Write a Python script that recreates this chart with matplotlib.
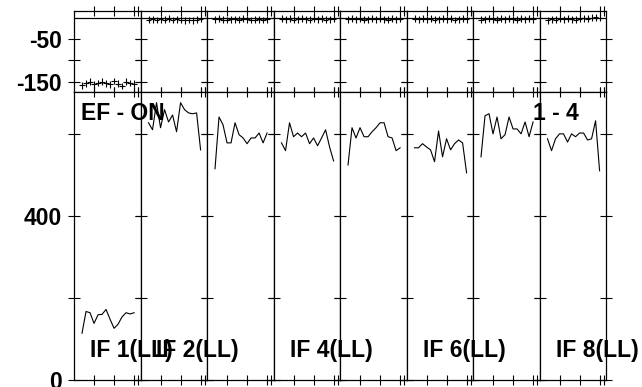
import matplotlib
matplotlib.use("Agg")
import matplotlib.pyplot as plt

# channel numbers (same for every IF)
channels = [2, 3, 4, 5, 6, 7, 8, 9, 10, 11, 12, 13, 14, 15]

# amplitude per IF
amp_if1 = [114, 167, 164, 138, 159, 160, 172, 148, 126, 136, 154, 164, 161, 164]
amp_if2 = [627, 610, 676, 615, 659, 629, 646, 605, 676, 659, 651, 649, 651, 561]
amp_if3 = [515, 641, 622, 578, 578, 627, 598, 590, 576, 590, 590, 602, 578, 602]
amp_if4 = [578, 559, 627, 593, 602, 593, 602, 576, 590, 571, 590, 610, 568, 534]
amp_if5 = [524, 615, 590, 615, 593, 593, 605, 615, 627, 627, 593, 590, 559, 566]
amp_if6 = [566, 566, 576, 568, 561, 532, 607, 544, 588, 561, 576, 585, 578, 505]
amp_if7 = [544, 644, 649, 600, 641, 588, 598, 641, 612, 612, 600, 629, 593, 629]
amp_if8 = [588, 559, 588, 600, 600, 580, 600, 593, 602, 602, 585, 588, 632, 510]

# phase per IF (degrees)
ph_if1 = [-158, -154, -150, -156, -153, -150, -154, -156, -148, -155, -160, -150, -153, -155]
ph_if2 = [-4, -3, -5, -3, -4, -2, -5, -3, -4, -6, -5, -6, -4, -2]
ph_if3 = [-3, -2, -4, -5, -3, -3, -4, -2, -3, -5, -4, -3, -5, -3]
ph_if4 = [-2, -3, -2, -4, -3, -2, -3, -4, -2, -3, -2, -4, -3, -2]
ph_if5 = [-3, -2, -3, -2, -4, -3, -2, -3, -2, -3, -4, -2, -3, -2]
ph_if6 = [-2, -3, -2, -3, -2, -4, -3, -2, -3, -2, -5, -3, -2, -3]
ph_if7 = [-4, -3, -2, -3, -4, -2, -3, -2, -3, -4, -2, -3, -2, -3]
ph_if8 = [-6, -3, -4, -2, -3, -2, -3, -4, -2, -1, -2, 0, 1, 0]
ph_err = 8

amps = [amp_if1, amp_if2, amp_if3, amp_if4, amp_if5, amp_if6, amp_if7, amp_if8]
phases = [ph_if1, ph_if2, ph_if3, ph_if4, ph_if5, ph_if6, ph_if7, ph_if8]

# IF labels that show up at the bottom (panel index, text)
if_labels = [(0, "IF 1(LL)"), (1, "IF 2(LL)"), (3, "IF 4(LL)"), (5, "IF 6(LL)"), (7, "IF 8(LL)")]

plt.rcParams['font.family'] = ['Liberation Sans', 'DejaVu Sans']
plt.rcParams['font.weight'] = 'bold'

W, H = 642, 387
fig = plt.figure(figsize=(W / 100, H / 100), dpi=100)

left, right = 74 / W, 606 / W
top, mid, bottom = 1 - 11 / H, 1 - 92 / H, 1 - 380 / H
gs_top = fig.add_gridspec(1, 8, left=left, right=right, top=top, bottom=mid, wspace=0)
gs_bot = fig.add_gridspec(1, 8, left=left, right=right, top=mid, bottom=bottom, wspace=0)

for i in range(8):
    axp = fig.add_subplot(gs_top[0, i])
    axa = fig.add_subplot(gs_bot[0, i])

    axp.errorbar(channels, phases[i], yerr=ph_err, xerr=0.7, fmt='none',
                 ecolor='black', elinewidth=0.8)
    axp.axhline(0, color='black', lw=0.9)
    axp.set_ylim(-174, 16)
    axp.set_yticks([-50, -100, -150])

    axa.plot(channels, amps[i], color='black', lw=0.8)
    axa.set_ylim(0, 702)
    axa.set_yticks([0, 200, 400, 600])

    for ax in (axp, axa):
        ax.set_xlim(0, 16.6)
        ax.set_xticks([5, 10, 15, 16])
        ax.tick_params(axis='x', direction='inout', length=7, width=0.8,
                       top=True, bottom=True, labelbottom=False)
        ax.tick_params(axis='y', direction='inout', length=8, width=0.8,
                       left=True, right=True, labelleft=False, pad=5)
        for s in ax.spines.values():
            s.set_linewidth(0.9)

    if i == 0:
        axp.tick_params(axis='y', labelleft=True, labelsize=16.5)
        axp.set_yticklabels(['-50', '', '-150'])
        axa.tick_params(axis='y', labelleft=True, labelsize=16.5)
        axa.set_yticklabels(['0', '', '400', ''])

for idx, txt in if_labels:
    x = (74 + idx * 66.5 + 16) / W
    fig.text(x, 1 - 357 / H, txt, fontsize=16.5, fontweight='bold', va='baseline')

fig.text(81 / W, 1 - 120 / H, "EF - ON", fontsize=16.5, fontweight='bold', va='baseline')
fig.text(533 / W, 1 - 120 / H, "1 - 4", fontsize=16.5, fontweight='bold', va='baseline')

fig.savefig("out.png", dpi=100)
